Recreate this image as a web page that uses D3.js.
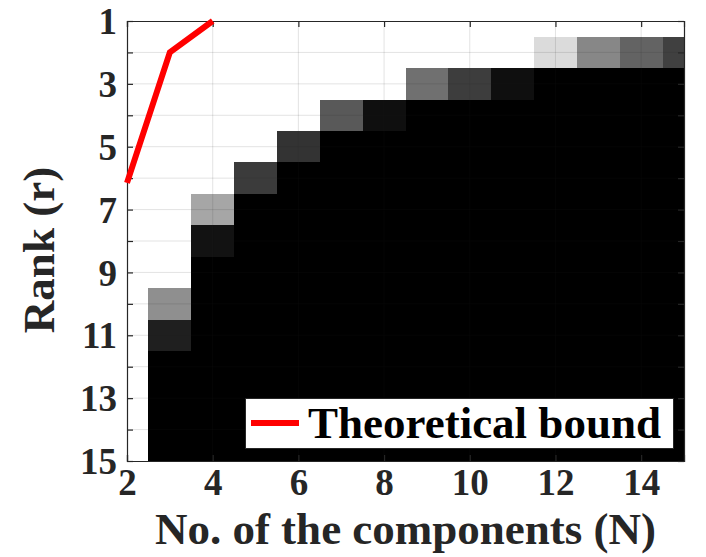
<!DOCTYPE html>
<html>
<head>
<meta charset="utf-8">
<script src="https://cdn.jsdelivr.net/npm/d3@7"></script>
<style>
  html, body { margin: 0; padding: 0; background: #ffffff; }
  svg { display: block; }
</style>
</head>
<body>
<svg id="chart" width="706" height="557"></svg>
<script>
// ---------- data ----------
const componentsN = [2, 3, 4, 5, 6, 7, 8, 9, 10, 11, 12, 13, 14, 15];
const ranks = [1, 2, 3, 4, 5, 6, 7, 8, 9, 10, 11, 12, 13, 14, 15];
// darkness per cell: 0 = white, 1 = black ; one row per N, one value per rank 1..15
const darkness = [
  [0,0,0,0,0,0,0,0,0,0,0,0,0,0,0],                 // N=2
  [0,0,0,0,0,0,0,0,0,0.44,0.88,1,1,1,1],           // N=3
  [0,0,0,0,0,0,0.35,0.93,1,1,1,1,1,1,1],           // N=4
  [0,0,0,0,0,0.77,1,1,1,1,1,1,1,1,1],              // N=5
  [0,0,0,0,0.80,1,1,1,1,1,1,1,1,1,1],              // N=6
  [0,0,0,0.65,1,1,1,1,1,1,1,1,1,1,1],              // N=7
  [0,0,0,0.94,1,1,1,1,1,1,1,1,1,1,1],              // N=8
  [0,0,0.56,1,1,1,1,1,1,1,1,1,1,1,1],              // N=9
  [0,0,0.76,1,1,1,1,1,1,1,1,1,1,1,1],              // N=10
  [0,0,0.94,1,1,1,1,1,1,1,1,1,1,1,1],              // N=11
  [0,0.14,1,1,1,1,1,1,1,1,1,1,1,1,1],              // N=12
  [0,0.47,1,1,1,1,1,1,1,1,1,1,1,1,1],              // N=13
  [0,0.61,1,1,1,1,1,1,1,1,1,1,1,1,1],              // N=14
  [0,0.75,1,1,1,1,1,1,1,1,1,1,1,1,1]               // N=15
];
const boundN = [2, 3, 4];
const boundRank = [6.15, 2, 1];
const xTicks = [2, 4, 6, 8, 10, 12, 14];
const yTickMarks = [1, 2, 3, 4, 5, 6, 7, 8, 9, 10, 11, 12, 13, 14, 15];
const yTickLabels = [1, 3, 5, 7, 9, 11, 13, 15];
const xLabel = "No. of the components (N)";
const yLabel = "Rank (r)";
const legendLabel = "Theoretical bound";

// ---------- layout ----------
const pL = 127, pR = 684, pT = 21, pB = 461;
const svg = d3.select("#chart");
const x = d3.scaleLinear().domain([2, 15]).range([pL, pR]);
const y = d3.scaleLinear().domain([1, 15]).range([pT, pB]);
const gray = d3.scaleLinear().domain([0, 1]).range(["#ffffff", "#000000"]);
const axisColor = "#262626";
const serif = "'Liberation Serif', 'Times New Roman', serif";

svg.append("defs").append("clipPath").attr("id", "plotclip")
  .append("rect").attr("x", pL).attr("y", pT)
  .attr("width", pR - pL).attr("height", pB - pT);

svg.append("rect").attr("x", pL).attr("y", pT)
  .attr("width", pR - pL).attr("height", pB - pT).attr("fill", "#fff");

// cells
const cells = [];
componentsN.forEach((n, i) => ranks.forEach((r, j) => cells.push({ n, r, v: darkness[i][j] })));
svg.append("g").attr("clip-path", "url(#plotclip)")
  .selectAll("rect").data(cells).join("rect")
  .attr("x", d => x(d.n - 0.5))
  .attr("y", d => y(d.r - 0.5))
  .attr("width", d => x(d.n + 0.5) - x(d.n - 0.5) + 0.3)
  .attr("height", d => y(d.r + 0.5) - y(d.r - 0.5) + 0.3)
  .attr("fill", d => gray(d.v))
  .attr("shape-rendering", "crispEdges");

// grid
const grid = svg.append("g").attr("stroke", axisColor).attr("stroke-opacity", 0.13).attr("stroke-width", 1);
xTicks.slice(1).forEach(t => grid.append("line")
  .attr("x1", x(t)).attr("x2", x(t)).attr("y1", pT).attr("y2", pB));
yTickMarks.slice(1, -1).forEach(t => grid.append("line")
  .attr("x1", pL).attr("x2", pR).attr("y1", y(t)).attr("y2", y(t)));

// axes (ticks inward, all four sides)
const tickLen = 6;
const axB = svg.append("g").attr("transform", `translate(0,${pB})`)
  .call(d3.axisBottom(x).tickValues(xTicks).tickSize(-tickLen).tickPadding(10).tickFormat(d3.format("d")));
const axT = svg.append("g").attr("transform", `translate(0,${pT})`)
  .call(d3.axisTop(x).tickValues(xTicks).tickSize(-tickLen).tickFormat(""));
const axL = svg.append("g").attr("transform", `translate(${pL},0)`)
  .call(d3.axisLeft(y).tickValues(yTickMarks).tickSize(-tickLen).tickPadding(10)
    .tickFormat(d => yTickLabels.includes(d) ? d : ""));
const axR = svg.append("g").attr("transform", `translate(${pR},0)`)
  .call(d3.axisRight(y).tickValues(yTickMarks).tickSize(-tickLen).tickFormat(""));
[axB, axT, axL, axR].forEach(a => {
  a.select(".domain").attr("stroke", axisColor).attr("stroke-width", 1.2);
  a.selectAll(".tick line").attr("stroke", axisColor).attr("stroke-width", 1.2);
  a.selectAll(".tick text").attr("fill", axisColor)
    .style("font-family", serif).style("font-weight", "bold").style("font-size", "37px");
});
axB.selectAll(".tick text").attr("dy", null).attr("y", 34);
axL.selectAll(".tick text").attr("x", -10).attr("dy", "0.34em");

// theoretical bound line
const line = d3.line().x(d => x(d[0])).y(d => y(d[1]));
svg.append("path")
  .datum(boundN.map((n, i) => [n, boundRank[i]]))
  .attr("d", line)
  .attr("fill", "none").attr("stroke", "#ff0000").attr("stroke-width", 6)
  .attr("stroke-linejoin", "miter");

// axis labels
svg.append("text").attr("x", (pL + pR) / 2).attr("y", 544)
  .attr("text-anchor", "middle").attr("fill", axisColor)
  .style("font-family", serif).style("font-weight", "bold").style("font-size", "45px")
  .text(xLabel);
svg.append("text").attr("transform", "translate(54,250) rotate(-90)")
  .attr("text-anchor", "middle").attr("fill", axisColor)
  .style("font-family", serif).style("font-weight", "bold").style("font-size", "45px")
  .text(yLabel);

// legend
const lg = svg.append("g");
lg.append("rect").attr("x", 245.5).attr("y", 398.5).attr("width", 428).attr("height", 50)
  .attr("fill", "#fff").attr("stroke", axisColor).attr("stroke-width", 1);
lg.append("line").attr("x1", 251).attr("x2", 299).attr("y1", 423).attr("y2", 423)
  .attr("stroke", "#ff0000").attr("stroke-width", 6);
lg.append("text").attr("x", 308).attr("y", 438).attr("fill", "#000")
  .style("font-family", serif).style("font-weight", "bold").style("font-size", "45px")
  .text(legendLabel);
</script>
</body>
</html>
